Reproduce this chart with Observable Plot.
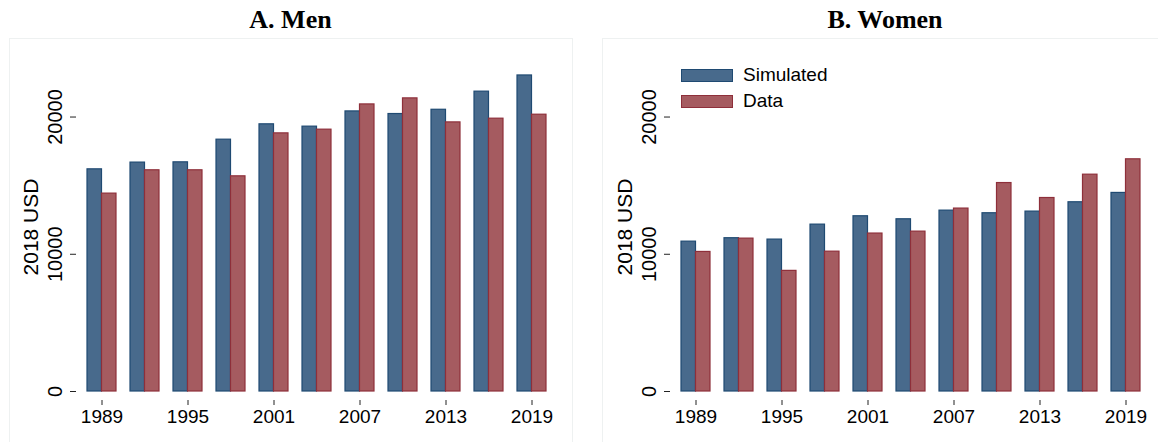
<!DOCTYPE html>
<html>
<head>
<meta charset="utf-8">
<script src="https://cdn.jsdelivr.net/npm/d3@7"></script>
<script src="https://cdn.jsdelivr.net/npm/@observablehq/plot@0.6"></script>
<style>
  html, body { margin: 0; padding: 0; background: #fff; }
  body { width: 1158px; height: 442px; position: relative; overflow: hidden; font-family: "Liberation Sans", Arial, sans-serif; }
  .title { position: absolute; top: 0; height: 38px; line-height: 40px; text-align: center;
           font-family: "Liberation Serif", "Times New Roman", serif; font-weight: bold; font-size: 26px; color: #000; }
  .box { position: absolute; top: 38px; height: 420px; border: 1px solid #eef1f1; border-bottom: none; }
  .chart { position: absolute; top: 38px; }
  .chart svg g[aria-label="x-axis tick label"] text { font-size: 19px !important; }
  .chart svg g[aria-label="y-axis tick label"] text { font-size: 20px !important; }
  .chart svg g[aria-label="y-axis label"] text { font-size: 21px !important; }
  .legend { position: absolute; left: 681px; top: 62px; font-size: 19px; color: #000; }
  .legend .item { display: flex; align-items: center; height: 26px; }
  .legend .sw { width: 50px; height: 11px; margin-right: 10px; border: 1.5px solid; }
</style>
</head>
<body>
<div class="box" style="left:9px; width:562px;"></div>
<div class="box" style="left:602px; width:570px;"></div>
<div class="title" style="left:9px; width:563px;">A. Men</div>
<div class="title" style="left:602px; width:566px;">B. Women</div>
<div class="chart" id="men" style="left:0px;"></div>
<div class="chart" id="women" style="left:594px;"></div>
<div class="legend" id="legend"></div>
<script>
// Survey years shown on the x axis
const years = [1989, 1992, 1995, 1998, 2001, 2004, 2007, 2010, 2013, 2016, 2019];
const tickYears = [1989, 1995, 2001, 2007, 2013, 2019];
const valueTicks = [0, 10000, 20000];

// Mean earnings, 2018 USD
const menSimulated   = [16190, 16680, 16700, 18350, 19470, 19300, 20410, 20220, 20530, 21850, 23030];
const menData        = [14420, 16120, 16120, 15680, 18810, 19080, 20920, 21360, 19610, 19880, 20170];
const womenSimulated = [10920, 11170, 11070, 12160, 12770, 12550, 13180, 12990, 13110, 13790, 14470];
const womenData      = [10170, 11140,  8790, 10190, 11510, 11650, 13330, 15190, 14100, 15800, 16920];

const seriesNames = ["Simulated", "Data"];

const BLUE = "#486a8c", BLUE_EDGE = "#1f4a72";
const RED = "#a55b60", RED_EDGE = "#8e2f3a";

function panel(sim, dat, width, marginRight) {
  const rows = years.map((year, i) => ({year, simulated: sim[i], data: dat[i]}));
  return Plot.plot({
    width,
    height: 404,
    marginLeft: 76,
    marginRight,
    marginTop: 15,
    marginBottom: 42,
    style: {fontFamily: "'Liberation Sans', Arial, sans-serif", color: "#000", background: "transparent", overflow: "visible"},
    x: {type: "band", domain: years, paddingInner: 0.332, paddingOuter: 0.206},
    y: {domain: [0, 24630], insetBottom: 9},
    marks: [
      Plot.barY(rows, {x: "year", y: "simulated", fill: BLUE, stroke: BLUE_EDGE, strokeWidth: 1.2, insetRight: 14.5}),
      Plot.barY(rows, {x: "year", y: "data", fill: RED, stroke: RED_EDGE, strokeWidth: 1.2, insetLeft: 14.5}),
      Plot.axisX({ticks: tickYears, tickSize: 5, tickPadding: 4, line: true, label: null,
                  tickFormat: d => String(d), stroke: "#222"}),
      Plot.axisY({ticks: valueTicks, tickSize: 6, tickPadding: 9, tickRotate: -90, line: true,
                  tickFormat: d3.format("d"), label: "2018 USD", labelAnchor: "center", labelArrow: "none",
                  labelOffset: 53, stroke: "#222"})
    ]
  });
}

document.getElementById("men").append(panel(menSimulated, menData, 579, 22));
document.getElementById("women").append(panel(womenSimulated, womenData, 564, 8));

// Legend for the two series
const legend = document.getElementById("legend");
[[seriesNames[0], BLUE, BLUE_EDGE], [seriesNames[1], RED, RED_EDGE]].forEach(([name, fill, edge]) => {
  const item = document.createElement("div");
  item.className = "item";
  const sw = document.createElement("span");
  sw.className = "sw";
  sw.style.background = fill;
  sw.style.borderColor = edge;
  const label = document.createElement("span");
  label.textContent = name;
  item.append(sw, label);
  legend.append(item);
});
</script>
</body>
</html>
